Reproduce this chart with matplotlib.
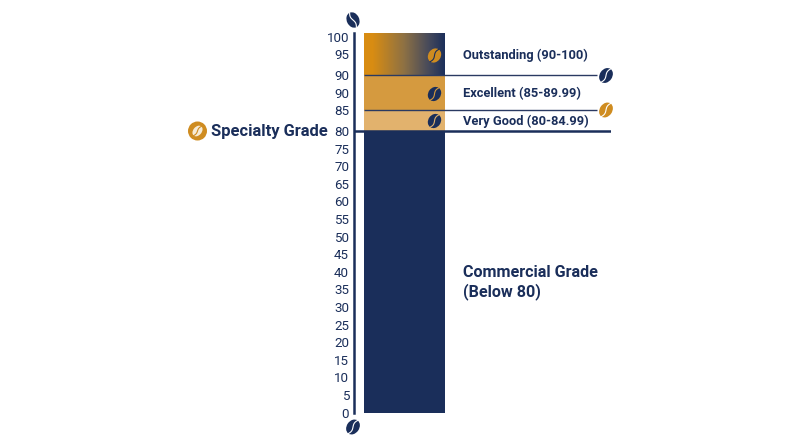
import numpy as np
import matplotlib
matplotlib.use("Agg")
import matplotlib.pyplot as plt
from matplotlib.colors import LinearSegmentedColormap
from matplotlib.patches import Circle, Ellipse
from matplotlib.transforms import Affine2D

# --- data ---
band_names = ["Commercial Grade\n(Below 80)", "Very Good (80-84.99)", "Excellent (85-89.99)", "Outstanding (90-100)"]
band_low = [0, 80, 85, 90]
band_high = [80, 85, 90, 100]
tick_values = [0, 5, 10, 15, 20, 25, 30, 35, 40, 45, 50, 55, 60, 65, 70, 75, 80, 85, 87.5, 90, 95, 99]
tick_labels = ["0", "5", "10", "15", "20", "25", "30", "35", "40", "45", "50", "55", "60", "65", "70", "75",
               "80", "85", "90", "90", "95", "100"]
threshold_values = [90, 85, 80]

NAVY = "#1A2E5A"
ORANGE = "#D88C12"
BEAN_ORANGE = "#CF8C20"
EXCELLENT = "#D59A3F"
VERYGOOD = "#E2B26D"
plt.rcParams["font.family"] = ["Roboto", "Open Sans", "DejaVu Sans"]

W, H = 800, 447
fig = plt.figure(figsize=(W / 100, H / 100), dpi=100, facecolor="white")

L, R, T, B = 354, 611, 33, 412.5
ax = fig.add_axes([L / W, 1 - B / H, (R - L) / W, (B - T) / H])
ax.patch.set_alpha(0)

knots_v = np.array([0, 80, 85, 90, 100], dtype=float)
knots_p = np.array([0, 281.5, 302.5, 337, 379.5], dtype=float)
ax.set_yscale("function", functions=(lambda v: np.interp(v, knots_v, knots_p),
                                     lambda p: np.interp(p, knots_p, knots_v)))
ax.set_xlim(L, R)
ax.set_ylim(0, 100)

bar_x, bar_w = 404.5, 81
ax.bar(bar_x, band_high[0] - band_low[0], bottom=band_low[0], width=bar_w, color=NAVY, linewidth=0)
ax.bar(bar_x, band_high[1] - band_low[1], bottom=band_low[1], width=bar_w, color=VERYGOOD, linewidth=0)
ax.bar(bar_x, band_high[2] - band_low[2], bottom=band_low[2], width=bar_w, color=EXCELLENT, linewidth=0)

cmap = LinearSegmentedColormap.from_list(
    "g", [(0, ORANGE), (0.1, ORANGE), (0.5, "#8C7044"), (0.8, "#474A5A"), (1, "#1C2F5A")])
xe = np.linspace(bar_x - bar_w / 2, bar_x + bar_w / 2, 82)
ax.pcolormesh(xe, [band_low[3], band_high[3]], np.linspace(0, 1, 81)[None, :], cmap=cmap, shading="flat")

ax.hlines(threshold_values[0], 364, 597, color="#2A3A62", lw=1.0, zorder=4)
ax.hlines(threshold_values[1], 364, 597, color="#2A3A62", lw=1.0, zorder=4)
ax.hlines(threshold_values[2], L, R, color=NAVY, lw=1.8, zorder=4)

for s in ["top", "right", "bottom"]:
    ax.spines[s].set_visible(False)
ax.spines["left"].set_color(NAVY)
ax.spines["left"].set_linewidth(1.8)
ax.set_xticks([])
ax.set_yticks(tick_values)
ax.set_yticklabels(tick_labels, fontsize=9.6, color=NAVY)
ax.tick_params(axis="y", length=0, pad=3.5)
ax.minorticks_off()

ov = fig.add_axes([0, 0, 1, 1])
ov.set_xlim(0, W)
ov.set_ylim(H, 0)
ov.axis("off")
ov.patch.set_alpha(0)


def bean(x, y, color, angle=35, w=12.5, h=16, slit="white", z=6):
    tr = Affine2D().rotate_deg(angle).translate(x, y) + ov.transData
    ov.add_patch(Ellipse((0, 0), w, h, fc=color, ec="none", transform=tr, zorder=z))
    t = np.linspace(-1, 1, 30)
    ov.plot(w * 0.09 * np.sin(t * np.pi), t * h / 2, color=slit, lw=0.8, transform=tr, zorder=z + 1)


bean(353, 20, NAVY, angle=-25)
bean(353, 427, NAVY)
bean(606, 75.5, NAVY)
bean(606, 110, BEAN_ORANGE)
bean(434.5, 55.5, BEAN_ORANGE, w=12.5, h=15, slit=NAVY)
bean(434.5, 94, NAVY, w=12.5, h=15, slit=EXCELLENT)
bean(434.5, 121, NAVY, w=12.5, h=15, slit=VERYGOOD)

ov.add_patch(Circle((197.5, 131), 9.5, fc=BEAN_ORANGE, ec="none", zorder=6))
bean(197.5, 131, "#F7EBD5", angle=40, w=8.5, h=12, slit=BEAN_ORANGE, z=7)

text_style = dict(color=NAVY, fontweight="bold", va="center", ha="left")
ov.text(463, 55.5, band_names[3], fontsize=9.25, **text_style)
ov.text(463, 94, band_names[2], fontsize=9.25, **text_style)
ov.text(463, 121, band_names[1], fontsize=9.25, **text_style)
ov.text(463, 282.5, band_names[0], fontsize=11.65, linespacing=1.2, **text_style)
ov.text(211, 131.5, "Specialty Grade", fontsize=11.9, **text_style)

fig.savefig("out.png", dpi=100, facecolor="white")
